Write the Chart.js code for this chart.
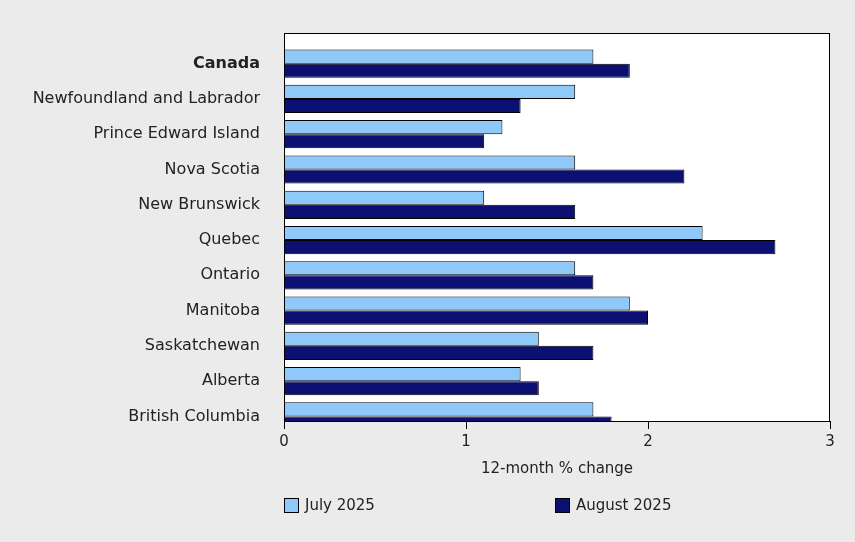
<!DOCTYPE html>
<html>
<head>
<meta charset="utf-8">
<script src="https://cdn.jsdelivr.net/npm/chart.js@4"></script>
<style>
  body { margin: 0; background: #ebebeb; font-family: "DejaVu Sans", sans-serif; }
  #wrap { position: relative; width: 855px; height: 542px; }
  .leg { position: absolute; top: 496px; font-size: 15px; color: #222; display: flex; align-items: center; }
  .sw { width: 13px; height: 13px; border: 1px solid #000; margin-right: 6px; }
</style>
</head>
<body>
<div id="wrap">
  <canvas id="myChart" width="855" height="542"></canvas>
  <div class="leg" style="left:284px"><span class="sw" style="background:#8fc9f9"></span>July 2025</div>
  <div class="leg" style="left:555px"><span class="sw" style="background:#0b1072"></span>August 2025</div>
</div>
<script>
const regions = ["Canada", "Newfoundland and Labrador", "Prince Edward Island", "Nova Scotia",
  "New Brunswick", "Quebec", "Ontario", "Manitoba", "Saskatchewan", "Alberta", "British Columbia"];
const july2025 = [1.7, 1.6, 1.2, 1.6, 1.1, 2.3, 1.6, 1.9, 1.4, 1.3, 1.7];
const august2025 = [1.9, 1.3, 1.1, 2.2, 1.6, 2.7, 1.7, 2.0, 1.7, 1.4, 1.8];
const xTicks = [0, 1, 2, 3];

Chart.defaults.font.family = "'DejaVu Sans', sans-serif";
Chart.defaults.font.size = 15;
Chart.defaults.color = "#222";

// white plot box with black frame
const plotBox = {
  id: "plotBox",
  beforeDraw(chart) {
    const { ctx, chartArea: a } = chart;
    ctx.save();
    ctx.fillStyle = "#fff";
    ctx.fillRect(a.left, a.top, a.right - a.left, a.bottom - a.top);
    ctx.restore();
  },
  afterDraw(chart) {
    const { ctx, chartArea: a } = chart;
    ctx.save();
    ctx.strokeStyle = "#000";
    ctx.lineWidth = 1;
    ctx.strokeRect(a.left + 0.5, a.top + 0.5, a.right - a.left - 1, a.bottom - a.top);
    ctx.restore();
  }
};

const ctx = document.getElementById("myChart").getContext("2d");
new Chart(ctx, {
  type: "bar",
  data: {
    labels: regions,
    datasets: [
      { label: "July 2025", data: july2025, backgroundColor: "#8fc9f9", borderColor: "#000", borderWidth: 1 },
      { label: "August 2025", data: august2025, backgroundColor: "#0b1072", borderColor: "#000", borderWidth: 1 }
    ]
  },
  options: {
    indexAxis: "y",
    responsive: false,
    animation: false,
    categoryPercentage: 0.8,
    barPercentage: 1,
    layout: { padding: { top: 33, right: 25, bottom: 60, left: 0 } },
    plugins: { legend: { display: false }, tooltip: { enabled: false } },
    scales: {
      x: {
        min: 0, max: 3,
        afterBuildTicks: (axis) => { axis.ticks = xTicks.map(v => ({ value: v })); },
        afterFit: (axis) => { axis.height = 61; },
        grid: { drawOnChartArea: false, tickLength: 8, color: "#000" },
        border: { display: false },
        ticks: { padding: 4 },
        title: { display: true, text: "12-month % change", padding: { top: 10 } }
      },
      y: {
        afterBuildTicks: (axis) => {
          axis.ticks = regions.map((_, i) => ({ value: i }));
          // extra space above first and below last category
          axis.min = -0.37;
          axis.max = regions.length - 1 + 0.54;
        },
        afterFit: (axis) => { axis.width = 284; },
        grid: { display: false },
        border: { display: false },
        ticks: {
          padding: 16,
          font: (c) => c.index === 0 ? { size: 16, weight: "bold" } : { size: 16 }
        }
      }
    }
  },
  plugins: [plotBox]
});
</script>
</body>
</html>
